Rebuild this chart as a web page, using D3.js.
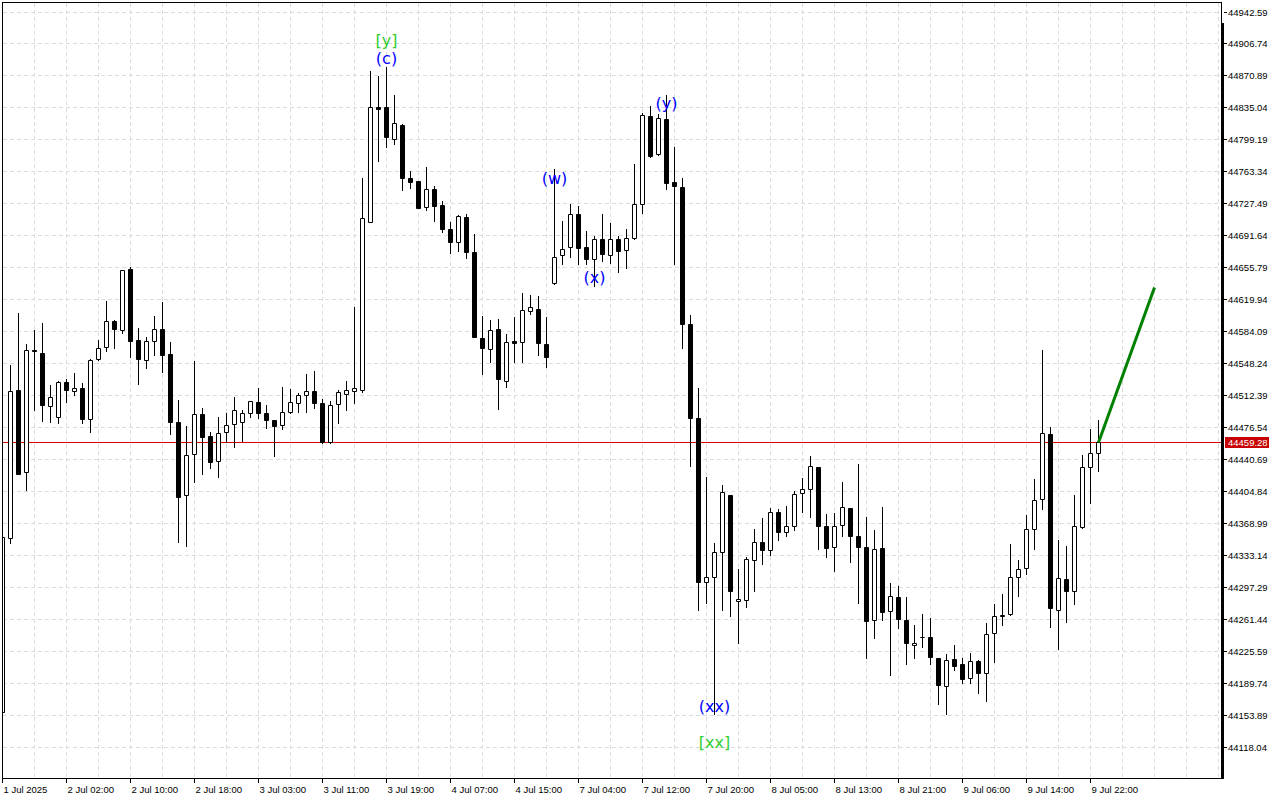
<!DOCTYPE html>
<html>
<head>
<meta charset="utf-8">
<script src="https://cdn.jsdelivr.net/npm/d3@7"></script>
<style>
body { margin: 0; background: #fff; }
svg { display: block; }
.axis text { font-family: "Liberation Sans", Arial, sans-serif; font-size: 9.5px; fill: #000; }
.wave { font-family: "DejaVu Sans", sans-serif; font-size: 16px; }
</style>
</head>
<body>
<div id="chart"></div>
<script>
// H1 bars, 1 Jul 18:00 .. 9 Jul 23:00
const opens = [44156.83,44351.67,44518.02,44425.70,44562.88,44559.52,44500.41,44487.39,44526.65,44516.56,
44520.26,44485.15,44552.45,44565.91,44595.08,44584.98,44653.75,44573.76,44551.33,44572.64,
44586.10,44558.06,44481.79,44399.90,44445.87,44490.76,44466.08,44438.01,44470.57,44479.54,
44481.79,44491.88,44504.22,44491.88,44484.03,44478.42,44493.68,44503.10,44512.07,44516.89,
44503.10,44460.03,44501.98,44513.19,44516.56,44518.02,44706.81,44835.80,44835.13,44799.24,
44815.28,44756.16,44752.46,44723.63,44743.49,44725.54,44698.62,44683.70,44711.74,44673.16,
44576.01,44563.56,44586.10,44528.44,44572.64,44571.52,44606.63,44608.54,44569.27,44637.71,
44669.11,44677.98,44715.45,44678.43,44664.63,44687.07,44669.11,44687.07,44674.73,44688.19,
44726.33,44825.04,44782.41,44821.67,44751.07,44745.60,44591.71,44486.27,44302.38,44308.71,
44336.63,44399.90,44281.34,44282.12,44326.99,44347.18,44338.21,44380.83,44358.40,44365.13,
44402.14,44406.63,44431.29,44365.13,44341.57,44366.25,44385.32,44353.91,44341.57,44259.69,
44340.45,44269.78,44285.61,44259.69,44231.64,44240.62,44240.62,44217.06,44185.65,44215.94,
44210.67,44194.70,44214.37,44200.24,44245.11,44264.85,44266.42,44308.71,44318.13,44361.76,
44395.53,44469.00,44270.91,44305.79,44292.22,44364.68,44431.29,44447.02];

const highs = [44356.00,44546.06,44604.72,44569.61,44585.32,44593.51,44523.62,44528.11,44530.35,44537.08,
44525.53,44553.13,44574.10,44617.85,44596.54,44652.63,44656.33,44587.56,44577.13,44601.02,
44616.73,44571.52,44506.80,44477.64,44550.55,44497.83,44470.90,44487.73,44492.22,44510.16,
44495.58,44505.68,44520.26,44500.85,44484.03,44521.82,44518.80,44515.19,44535.62,44539.33,
44507.99,44505.68,44518.02,44528.11,44611.45,44756.16,44875.85,44870.24,44880.33,44848.93,
44816.00,44763.68,44752.46,44768.50,44747.19,44729.69,44706.14,44714.32,44715.45,44693.01,
44601.02,44596.54,44597.32,44580.49,44599.56,44626.57,44624.50,44623.48,44599.56,44766.48,
44707.59,44726.33,44724.42,44696.04,44691.21,44715.11,44705.35,44690.77,44698.28,44771.53,
44828.40,44836.59,44827.62,44848.93,44790.26,44755.71,44601.81,44519.92,44420.76,44346.06,
44411.11,44399.90,44317.23,44331.03,44362.10,44374.44,44385.66,44384.53,44387.90,44404.72,
44419.31,44443.63,44431.96,44378.59,44379.71,44414.85,44385.66,44435.01,44375.22,44360.64,
44386.78,44301.19,44297.94,44285.61,44254.08,44266.42,44261.93,44217.50,44221.55,44231.64,
44217.06,44223.01,44215.20,44256.32,44277.64,44289.30,44344.93,44327.33,44377.47,44418.18,
44562.88,44476.85,44349.42,44342.81,44399.90,44444.75,44473.93,44484.03];

const lows = [44153.46,44346.06,44423.50,44405.85,44495.58,44483.58,44482.12,44481.00,44504.89,44512.41,
44481.00,44471.24,44551.33,44562.10,44565.46,44582.29,44555.37,44525.08,44543.02,44557.61,
44538.54,44469.00,44347.86,44343.37,44415.22,44424.13,44430.28,44420.76,44459.69,44454.41,
44461.15,44487.39,44486.27,44475.72,44443.99,44474.09,44492.55,44493.68,44493.68,44498.16,
44458.50,44458.90,44480.66,44495.25,44503.77,44515.87,44706.50,44775.23,44790.60,44794.30,
44742.37,44744.94,44722.00,44719.93,44707.59,44694.92,44672.04,44674.28,44666.09,44577.13,
44535.62,44549.08,44496.37,44521.82,44549.75,44549.75,44602.93,44557.04,44544.14,44637.20,
44659.60,44666.87,44658.93,44658.93,44635.13,44663.06,44660.72,44650.72,44654.54,44687.50,
44716.90,44779.72,44781.28,44743.15,44659.60,44565.46,44433.25,44271.24,44279.43,44154.25,
44271.24,44264.85,44234.56,44274.94,44292.89,44323.18,44333.27,44350.10,44354.58,44360.64,
44381.51,44375.90,44340.00,44330.35,44314.99,44354.58,44325.41,44279.43,44217.06,44240.17,
44259.69,44198.55,44250.71,44210.24,44217.06,44230.07,44210.24,44165.47,44154.25,44203.61,
44189.76,44189.76,44177.88,44169.50,44213.24,44254.75,44266.00,44287.29,44311.96,44340.00,
44384.20,44251.83,44227.16,44257.45,44277.64,44362.88,44391.60,44427.62];

const closes = [44353.13,44516.89,44424.13,44562.88,44561.43,44501.53,44510.16,44526.65,44517.68,44519.92,
44485.82,44551.33,44564.79,44595.08,44586.10,44652.30,44572.64,44552.45,44572.98,44586.10,
44557.61,44482.46,44398.33,44444.75,44490.76,44464.96,44436.89,44469.45,44478.42,44495.25,
44491.88,44505.34,44491.88,44484.03,44478.20,44493.90,44504.22,44512.07,44516.56,44503.77,
44459.35,44501.19,44515.63,44518.02,44520.26,44710.62,44835.13,44833.56,44802.16,44817.52,
44756.16,44751.74,44722.51,44743.15,44724.76,44698.62,44683.70,44713.20,44673.16,44577.80,
44564.79,44584.98,44530.01,44572.20,44570.40,44607.42,44610.78,44570.40,44555.37,44667.77,
44675.74,44715.11,44677.64,44664.63,44687.07,44670.24,44687.07,44674.28,44688.19,44726.33,
44826.16,44780.84,44822.79,44750.62,44747.19,44592.39,44486.27,44303.05,44308.71,44336.63,
44403.14,44292.89,44283.45,44328.11,44347.18,44338.21,44380.83,44359.07,44365.47,44401.02,
44406.63,44432.41,44365.13,44340.45,44365.13,44386.44,44353.91,44341.57,44258.57,44339.33,
44268.66,44286.73,44260.81,44233.89,44233.89,44240.62,44218.18,44186.77,44214.82,44209.00,
44194.25,44214.37,44200.24,44243.98,44264.85,44265.20,44308.71,44317.67,44361.76,44395.09,
44470.12,44273.15,44306.91,44292.22,44365.80,44431.29,44447.69,44459.28];

const priceTicks = [44942.59,44906.74,44870.89,44835.04,44799.19,44763.34,44727.49,44691.64,
  44655.79,44619.94,44584.09,44548.24,44512.39,44476.54,44440.69,44404.84,44368.99,44333.14,
  44297.29,44261.44,44225.59,44189.74,44153.89,44118.04];

const timeLabels = ["1 Jul 2025","2 Jul 02:00","2 Jul 10:00","2 Jul 18:00","3 Jul 03:00","3 Jul 11:00",
  "3 Jul 19:00","4 Jul 07:00","4 Jul 15:00","7 Jul 04:00","7 Jul 12:00","7 Jul 20:00",
  "8 Jul 05:00","8 Jul 13:00","8 Jul 21:00","9 Jul 06:00","9 Jul 14:00","9 Jul 22:00"];

const waveText = ["[y]","(c)","(w)","(x)","(y)","(xx)","[xx]"];
const waveBar = [48, 48, 69, 74, 83, 89, 89];
const wavePrice = [44910.6, 44890.4, 44755.8, 44645.1, 44840.0, 44163.6, 44123.2];

const lastPrice = 44459.28;
const forecastBar = [137, 144];
const forecastPrice = [44459.28, 44634.0];

const width = 1280;
const height = 800;

const svg = d3.select("#chart")
    .append("svg")
        .attr("width", width)
        .attr("height", height);

const xScale = d3.scaleLinear()
    .domain([0, 152])
    .range([2, 1218])
    .interpolate(d3.interpolateRound);

const yScale = d3.scaleLinear()
    .domain([44118.04, 44942.59])
    .range([746.6, 11.5])
    .interpolate(d3.interpolateRound);

svg.append("defs").append("clipPath")
    .attr("id", "plotclip")
  .append("rect")
    .attr("x", 3).attr("y", 3)
    .attr("width", 1218).attr("height", 775);

// grid
const grid = svg.append("g")
    .attr("stroke", "#dcdcdc")
    .attr("stroke-dasharray", "4,3");

grid.selectAll(".vgrid")
    .data(d3.range(4, 153, 4))
    .join("line")
        .attr("x1", d => xScale(d) + 0.5)
        .attr("x2", d => xScale(d) + 0.5)
        .attr("y1", 3)
        .attr("y2", 778);

grid.selectAll(".hgrid")
    .data(priceTicks)
    .join("line")
        .attr("x1", 3)
        .attr("x2", 1221)
        .attr("y1", d => yScale(d) + 0.5)
        .attr("y2", d => yScale(d) + 0.5);

const plot = svg.append("g").attr("clip-path", "url(#plotclip)");

// bid line
plot.append("line")
    .attr("x1", 3)
    .attr("x2", 1221)
    .attr("y1", yScale(lastPrice) + 0.5)
    .attr("y2", yScale(lastPrice) + 0.5)
    .attr("stroke", "#dd0000");

const bars = d3.range(opens.length);

const candle = plot.selectAll(".candle")
    .data(bars)
    .join("g")
        .attr("class", "candle");

candle.append("line")
    .attr("x1", i => xScale(i) + 0.5)
    .attr("x2", i => xScale(i) + 0.5)
    .attr("y1", i => yScale(highs[i]))
    .attr("y2", i => yScale(lows[i]) + 1)
    .attr("stroke", "#000");

candle.append("path")
    .attr("d", i => {
        const cx = xScale(i) + 0.5;
        const top = yScale(Math.max(opens[i], closes[i])) + 0.5;
        const bot = yScale(Math.min(opens[i], closes[i])) + 0.5;
        return "M" + (cx - 2) + "," + top + "H" + (cx + 2) + "V" + bot + "H" + (cx - 2) + "Z";
    })
    .attr("fill", i => closes[i] >= opens[i] ? "#fff" : "#000")
    .attr("stroke", "#000");

// forecast line
const fcLine = d3.line()
    .x(d => xScale(d[0]) + 0.5)
    .y(d => yScale(d[1]) + 0.5);

plot.append("path")
    .datum(d3.zip(forecastBar, forecastPrice))
    .attr("d", fcLine)
    .attr("fill", "none")
    .attr("stroke", "#008000")
    .attr("stroke-width", 3);

// wave labels
plot.selectAll(".wave")
    .data(d3.range(waveText.length))
    .join("text")
        .attr("class", "wave")
        .attr("x", i => xScale(waveBar[i]) + 0.5)
        .attr("y", i => yScale(wavePrice[i]))
        .attr("dy", "0.36em")
        .attr("text-anchor", "middle")
        .attr("fill", i => waveText[i][0] == "[" ? "#32cd32" : "#0000ff")
        .text(i => waveText[i]);

// frame
svg.append("rect")
    .attr("x", 2.5).attr("y", 2.5)
    .attr("width", 1219).attr("height", 776)
    .attr("fill", "none")
    .attr("stroke", "#000");

svg.append("rect")
    .attr("x", 1221).attr("y", 23)
    .attr("width", 3).attr("height", 756)
    .attr("fill", "#000");

// price axis
const yAxis = svg.append("g")
    .attr("class", "axis")
    .attr("transform", "translate(1224,0)")
    .call(d3.axisRight(yScale)
        .tickValues(priceTicks)
        .tickSize(3)
        .tickPadding(1)
        .tickFormat(d3.format(".2f")));
yAxis.select(".domain").remove();

// time axis
const xAxis = svg.append("g")
    .attr("class", "axis")
    .attr("transform", "translate(0,778)")
    .call(d3.axisBottom(xScale)
        .tickValues(d3.range(0, opens.length, 8))
        .tickSize(5)
        .tickPadding(3)
        .tickFormat((d, i) => timeLabels[i]));
xAxis.select(".domain").remove();
xAxis.selectAll("text")
    .attr("text-anchor", "start")
    .attr("x", 1);

// current price tag
svg.append("rect")
    .attr("x", 1225)
    .attr("y", yScale(lastPrice) - 5)
    .attr("width", 44)
    .attr("height", 11)
    .attr("fill", "#c80000");

svg.append("text")
    .attr("class", "axis")
    .attr("x", 1228)
    .attr("y", yScale(lastPrice) + 0.5)
    .attr("dy", "0.35em")
    .attr("font-family", "Liberation Sans, Arial, sans-serif")
    .attr("font-size", "9.5px")
    .attr("fill", "#fff")
    .text(d3.format(".2f")(lastPrice));
</script>
</body>
</html>
